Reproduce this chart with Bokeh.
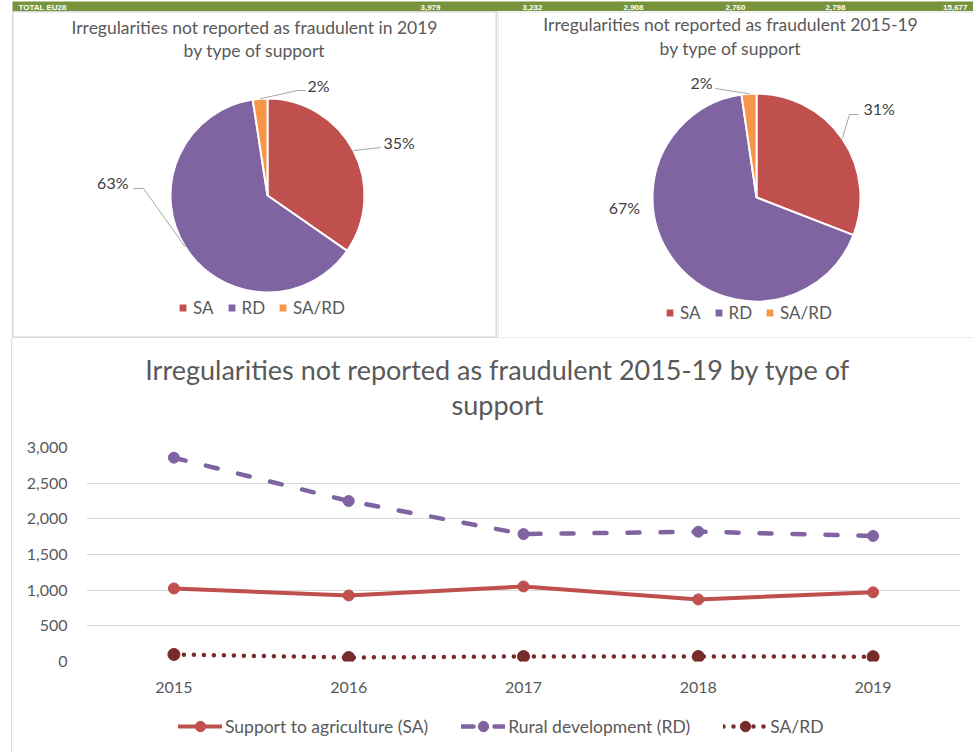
import math
from bokeh.plotting import figure
from bokeh.models import (Range1d, ColumnDataSource, Legend, LegendItem, Span,
                          FactorRange, NumeralTickFormatter, SingleIntervalTicker)
from bokeh.layouts import column, row
from bokeh.embed import file_html
from bokeh.resources import INLINE
from bokeh.core.properties import value

# ---------------- data ----------------
years = ["2015", "2016", "2017", "2018", "2019"]
sa_values = [1024, 926, 1052, 870, 970]       # Support to agriculture (SA)
rd_values = [2857, 2250, 1786, 1820, 1760]    # Rural development (RD)
sard_values = [98, 56, 70, 70, 68]            # SA/RD
series_names = ["Support to agriculture (SA)", "Rural development (RD)", "SA/RD"]
pie_labels = ["SA", "RD", "SA/RD"]
total_row_label = "TOTAL EU28"
line_title = ["Irregularities not reported as fraudulent 2015-19 by type of", "support"]
y_ticks_interval = 500

# ---------------- style ----------------
FONT = "Lato"
GRAY = "#595959"
LBL = "#404040"
BORDER = "#D9D9D9"
LEADER = "#A6A6A6"
PIE_COLORS = ["#C0504D", "#8064A2", "#F79646"]
LINE_COLORS = ["#C0504D", "#8064A2", "#772C2A"]
W = 961
MB_L, MB_R = 74, 13
FRAME_W = W - MB_L - MB_R

# ---------------- green totals strip ----------------
yearly_totals = [a + b + c for a, b, c in zip(sa_values, rd_values, sard_values)]
totals_text = ["{:,}".format(t) for t in yearly_totals] + ["{:,}".format(sum(yearly_totals))]
bar_h = 11
bar = figure(width=W, height=bar_h, x_range=Range1d(0, W), y_range=Range1d(0, bar_h),
             min_border=0, toolbar_location=None, output_backend="svg",
             x_axis_location=None, y_axis_location=None, title_location=None,
             outline_line_color=None, background_fill_color="#77933C",
             border_fill_color="#77933C")
bar.grid.visible = False
bar.text(x=[6], y=[5.5], text=[total_row_label], text_font=value("Liberation Sans"),
         text_font_style="bold", text_font_size="8px", text_color="white",
         text_baseline="middle", text_align="left")
num_right = [428, 530, 631, 733, 833, 955]
bar.text(x=num_right, y=[5.5] * 6, text=totals_text, text_font=value("Liberation Sans"),
         text_font_style="bold", text_font_size="8px", text_color="white",
         text_baseline="middle", text_align="right")


# ---------------- pies ----------------
def pie_panel(width, height, values, cx, cy, r, title_lines, title_x, title_ys,
              layouts, legend_loc, full_outline):
    p = figure(width=width, height=height, x_range=Range1d(0, width), y_range=Range1d(0, height),
               min_border=0, toolbar_location=None, output_backend="svg",
               x_axis_location=None, y_axis_location=None, title_location=None,
               outline_line_color=BORDER if full_outline else None, outline_line_width=2)
    p.grid.visible = False
    if not full_outline:
        p.add_layout(Span(location=0.5, dimension="height", line_color=BORDER, line_width=1))
        p.add_layout(Span(location=0.5, dimension="width", line_color=BORDER, line_width=1))
        p.add_layout(Span(location=height - 0.5, dimension="width", line_color=BORDER, line_width=1))
    total = sum(values)
    fr = [v / total for v in values]
    cum = [0.0]
    for f in fr:
        cum.append(cum[-1] + f)
    start = [math.pi / 2 - 2 * math.pi * cum[i] for i in range(len(values))]
    end = [math.pi / 2 - 2 * math.pi * cum[i + 1] for i in range(len(values))]
    src = ColumnDataSource(dict(start=start, end=end, color=PIE_COLORS, label=pie_labels))
    wr = p.wedge(x=cx, y=cy, radius=r, start_angle="start", end_angle="end",
                 direction="clock", fill_color="color", line_color="white",
                 line_width=2, source=src)
    p.text(x=[title_x] * len(title_lines), y=title_ys, text=title_lines,
           text_align="center", text_baseline="middle", text_font=value(FONT),
           text_font_size="17.5px", text_color=GRAY)
    for i, lay in enumerate(layouts):
        mid = 2 * math.pi * (cum[i] + cum[i + 1]) / 2
        ex = cx + r * math.sin(mid)
        ey = cy + r * math.cos(mid)
        if lay["leader"]:
            xs = [ex] + [pt[0] for pt in lay["leader"]]
            ys = [ey] + [pt[1] for pt in lay["leader"]]
            p.line(xs, ys, line_color=LEADER, line_width=1)
        p.text(x=[lay["pos"][0]], y=[lay["pos"][1]], text=["{}%".format(round(100 * fr[i]))],
               text_align=lay["align"], text_baseline="middle", text_font=value(FONT),
               text_font_size="16px", text_color=LBL)
    items = [LegendItem(label=lab, renderers=[wr], index=i) for i, lab in enumerate(pie_labels)]
    leg = Legend(items=items, location=legend_loc, orientation="horizontal",
                 glyph_width=11, glyph_height=11, label_height=11, label_standoff=5,
                 spacing=12, padding=0, margin=0, border_line_color=None,
                 background_fill_alpha=0, label_text_font=FONT,
                 label_text_font_size="17px", label_text_color=GRAY)
    p.add_layout(leg)
    return p


pie_h = 327
vals_2019 = [sa_values[-1], rd_values[-1], sard_values[-1]]
vals_all = [sum(sa_values), sum(rd_values), sum(sard_values)]

left = pie_panel(485, pie_h, vals_2019, 255, 143, 97,
                 ["Irregularities not reported as fraudulent in 2019", "by type of support"],
                 242, [311, 288],
                 [dict(leader=[(368, 191)], pos=(371, 196), align="left"),
                  dict(leader=[(131, 150), (121, 150)], pos=(116, 156), align="right"),
                  dict(leader=[(285, 248), (293, 248)], pos=(295, 253), align="left")],
                 (165, 20), True)
right = pie_panel(476, pie_h, vals_all, 259, 141, 104,
                  ["Irregularities not reported as fraudulent 2015-19", "by type of support"],
                  233, [314, 290],
                  [dict(leader=[(352, 224), (361, 224)], pos=(366, 230), align="left"),
                   dict(leader=None, pos=(127, 131), align="center"),
                   dict(leader=[(218, 250)], pos=(215, 256), align="right")],
                  (167, 15), False)

# ---------------- line chart title strip ----------------
title_h = 99
tfig = figure(width=W, height=title_h, x_range=Range1d(0, FRAME_W), y_range=Range1d(0, title_h),
              min_border_left=MB_L, min_border_right=MB_R, min_border_top=0, min_border_bottom=0,
              toolbar_location=None, output_backend="svg",
              x_axis_location=None, y_axis_location=None, title_location=None,
              outline_line_color=None)
tfig.grid.visible = False
tfig.text(x=[411, 411], y=[68, 33], text=line_title, text_align="center",
          text_baseline="alphabetic", text_font=value(FONT), text_font_size="27px",
          text_color=GRAY)

# ---------------- line chart ----------------
src = ColumnDataSource(dict(year=years, sa=sa_values, rd=rd_values, sard=sard_values))
lp = figure(width=W, height=276, x_range=FactorRange(*years, range_padding=0),
            y_range=Range1d(0, 3000), toolbar_location=None, output_backend="svg",
            title_location=None, min_border_left=MB_L, min_border_right=MB_R,
            min_border_top=10, min_border_bottom=52, outline_line_color=None)
lp.xgrid.visible = False
lp.ygrid.grid_line_color = BORDER
lp.ygrid.grid_line_width = 1
lp.yaxis.ticker = SingleIntervalTicker(interval=y_ticks_interval, num_minor_ticks=0)
lp.yaxis.formatter = NumeralTickFormatter(format="0,0")
for ax in (lp.xaxis, lp.yaxis):
    ax.axis_line_color = None
    ax.major_tick_line_color = None
    ax.minor_tick_line_color = None
    ax.major_tick_out = 0
    ax.major_label_text_font = FONT
    ax.major_label_text_font_size = "16px"
    ax.major_label_text_color = GRAY
lp.yaxis.major_label_standoff = 19
lp.xaxis.major_label_standoff = 20

line_kw = [dict(line_width=4, line_cap="round"),
           dict(line_width=4.5, line_dash="12 21", line_cap="round"),
           dict(line_width=4.5, line_dash="0 10", line_cap="round")]
marker_sizes = [11, 11, 12]
cols = ["sa", "rd", "sard"]
for c, col, kw, ms in zip(LINE_COLORS, cols, line_kw, marker_sizes):
    lp.line("year", col, source=src, line_color=c, **kw)
    lp.scatter("year", col, source=src, size=ms, fill_color=c, line_color=c)

# ---------------- legend strip (same series, their lines fall outside this strip's view) ----
legfig = figure(width=W, height=39, x_range=FactorRange(*years, range_padding=0),
                y_range=Range1d(0, 1), min_border_left=MB_L, min_border_right=MB_R,
                min_border_top=0, min_border_bottom=0, toolbar_location=None,
                output_backend="svg", x_axis_location=None, y_axis_location=None,
                title_location=None, outline_line_color=None)
legfig.grid.visible = False
items = []
for name, c, col, kw, ms in zip(series_names, LINE_COLORS, cols, line_kw, marker_sizes):
    lr = legfig.line("year", col, source=src, line_color=c, **kw)
    mr = legfig.scatter("year", col, source=src, size=ms, fill_color=c, line_color=c)
    items.append(LegendItem(label=name, renderers=[lr, mr]))
leg = Legend(items=items, location=(92, 13), orientation="horizontal", glyph_width=44,
             glyph_height=26, label_height=26, label_standoff=3, spacing=33, padding=0,
             margin=0, border_line_color=None, background_fill_alpha=0,
             label_text_font=FONT, label_text_font_size="17.5px", label_text_color=GRAY)
legfig.add_layout(leg)

bottom = column(tfig, lp, legfig, styles={"box-shadow": "-1px 0 0 0 #D9D9D9"})
layout = column(bar, row(left, right), bottom, margin=(0, 0, 0, 12))

open("out.html", "w").write(file_html(layout, INLINE))
